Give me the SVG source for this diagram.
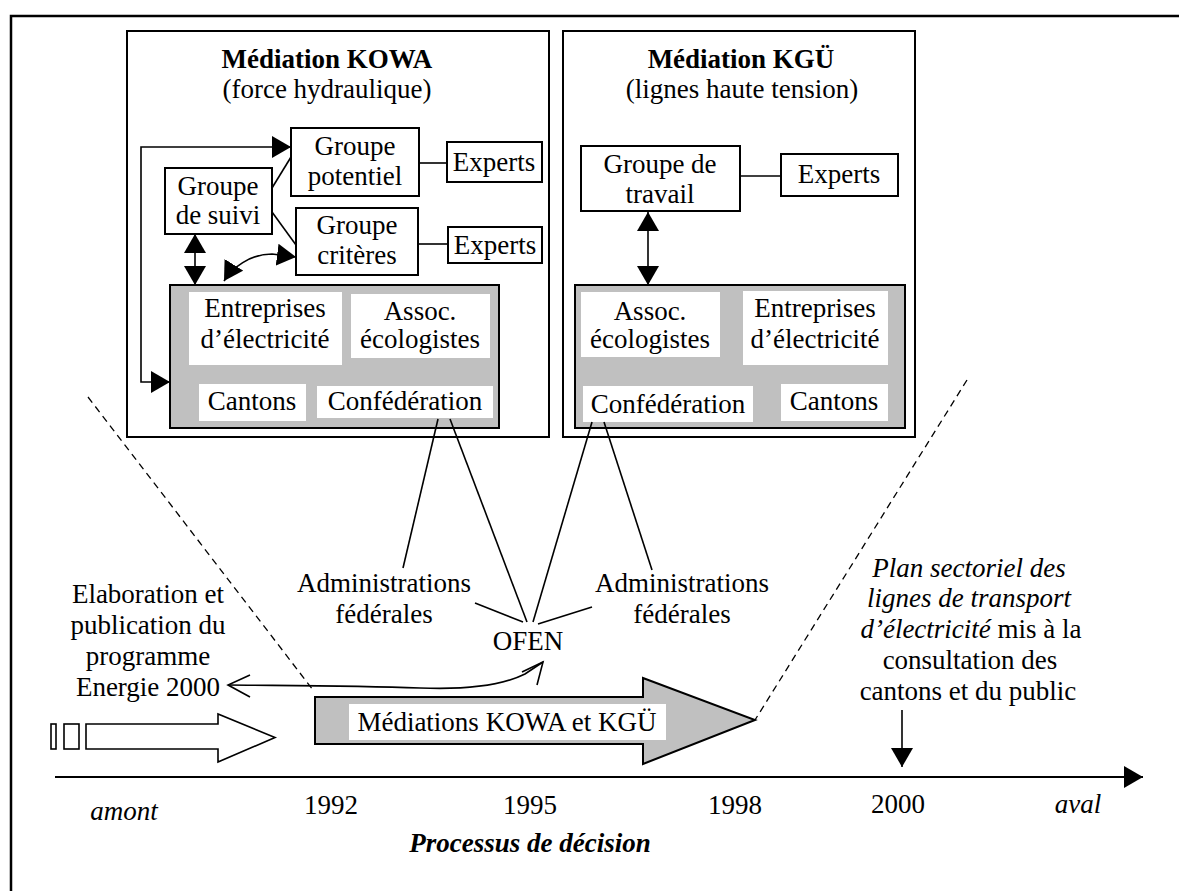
<svg xmlns="http://www.w3.org/2000/svg" width="1179" height="891" viewBox="0 0 1179 891" font-family="'Liberation Serif', 'Times New Roman', 'DejaVu Serif', serif">
<style>
text{font-family:'Liberation Serif','Times New Roman','DejaVu Serif',serif;font-size:27px;fill:#000;text-anchor:middle}
.b{font-weight:bold}
.i{font-style:italic}
.box{fill:#fff;stroke:#000;stroke-width:2}
.gray{fill:#c0c0c0;stroke:#000;stroke-width:2}
.wb{fill:#fff;stroke:none}
.ln{fill:none;stroke:#000;stroke-width:1.6}
.dash{fill:none;stroke:#000;stroke-width:1.3;stroke-dasharray:7,5}
</style>
<defs>
<marker id="tri" viewBox="0 0 19 22" refX="19" refY="11" markerWidth="19" markerHeight="22" markerUnits="userSpaceOnUse" orient="auto-start-reverse">
<path d="M0,0 L19,11 L0,22 z" fill="#000"/>
</marker>
</defs>
<rect width="1179" height="891" fill="#fff"/>
<g id="frame">
<path d="M11,891 L11,16 L1179,16" fill="none" stroke="#000" stroke-width="2.5"/>
</g>
<g id="kowa">
<rect class="box" x="127" y="31" width="422" height="406"/>
<text class="b" x="327" y="68">Médiation KOWA</text>
<text x="327" y="98">(force hydraulique)</text>
</g>
<g id="kgu">
<rect class="box" x="563" y="31" width="352" height="406"/>
<text class="b" x="741" y="68">Médiation KGÜ</text>
<text x="742" y="98">(lignes haute tension)</text>
</g>
<g id="kowa-suivi">
<rect class="box" x="165" y="168" width="107" height="66"/>
<text x="218" y="195">Groupe</text>
<text x="218" y="224">de suivi</text>
</g>
<g id="kowa-potentiel">
<rect class="box" x="291" y="128" width="128" height="68"/>
<text x="355" y="155">Groupe</text>
<text x="355" y="185">potentiel</text>
</g>
<g id="kowa-experts1">
<rect class="box" x="447" y="142" width="95" height="40"/>
<text x="494" y="171">Experts</text>
</g>
<g id="kowa-criteres">
<rect class="box" x="296" y="208" width="122" height="67"/>
<text x="357" y="234">Groupe</text>
<text x="357" y="264">critères</text>
</g>
<g id="kowa-experts2">
<rect class="box" x="448" y="227" width="94" height="36"/>
<text x="495" y="254">Experts</text>
</g>
<g id="kowa-acteurs">
<rect class="gray" x="170" y="285" width="329" height="143"/>
<rect class="wb" x="189" y="292" width="153" height="73"/>
<text x="265" y="317">Entreprises</text>
<text x="265" y="348">d’électricité</text>
<rect class="wb" x="351" y="294" width="139" height="64"/>
<text x="420" y="320">Assoc.</text>
<text x="420" y="348">écologistes</text>
<rect class="wb" x="199" y="384" width="107" height="37"/>
<text x="252" y="410">Cantons</text>
<rect class="wb" x="317" y="386" width="176" height="32"/>
<text x="405" y="410">Confédération</text>
</g>
<g id="kgu-travail">
<rect class="box" x="581" y="146" width="159" height="65"/>
<text x="660" y="173">Groupe de</text>
<text x="660" y="203">travail</text>
</g>
<g id="kgu-experts">
<rect class="box" x="781" y="154" width="117" height="42"/>
<text x="839" y="183">Experts</text>
</g>
<g id="kgu-acteurs">
<rect class="gray" x="575" y="285" width="330" height="143"/>
<rect class="wb" x="581" y="292" width="139" height="65"/>
<text x="650" y="320">Assoc.</text>
<text x="650" y="348">écologistes</text>
<rect class="wb" x="743" y="291" width="145" height="74"/>
<text x="815" y="317">Entreprises</text>
<text x="815" y="348">d’électricité</text>
<rect class="wb" x="583" y="386" width="170" height="36"/>
<text x="668" y="413">Confédération</text>
<rect class="wb" x="781" y="384" width="107" height="37"/>
<text x="834" y="410">Cantons</text>
</g>
<g id="connectors">
<line class="ln" x1="419" y1="163" x2="447" y2="163"/>
<line class="ln" x1="418" y1="244" x2="448" y2="244"/>
<line class="ln" x1="272" y1="188" x2="291" y2="157"/>
<line class="ln" x1="272" y1="212" x2="296" y2="245"/>
<path class="ln" d="M170,382 L141,382 L141,147 L291,147" marker-start="url(#tri)" marker-end="url(#tri)"/>
<line class="ln" x1="195" y1="234" x2="195" y2="285" marker-start="url(#tri)" marker-end="url(#tri)"/>
<path class="ln" d="M224,281 C232,268 250,254 272,254 L296,257" marker-start="url(#tri)" marker-end="url(#tri)"/>
<line class="ln" x1="740" y1="176" x2="781" y2="176"/>
<line class="ln" x1="648" y1="212" x2="648" y2="285" marker-start="url(#tri)" marker-end="url(#tri)"/>
<line class="ln" x1="438" y1="419" x2="403" y2="568"/>
<line class="ln" x1="450" y1="419" x2="527" y2="622"/>
<line class="ln" x1="592" y1="422" x2="533" y2="622"/>
<line class="ln" x1="604" y1="422" x2="652" y2="570"/>
<line class="ln" x1="475" y1="603" x2="523" y2="622"/>
<line class="ln" x1="538" y1="624" x2="592" y2="607"/>
<path class="ln" d="M228,685 C330,686 360,686 420,688 C470,690 505,684 525,674 L543,662"/>
<path class="ln" d="M250,675 L228,685 L250,697"/>
<path class="ln" d="M522,672 L543,662 L537,685"/>
<line class="dash" x1="88" y1="397" x2="313" y2="690"/>
<line class="dash" x1="967" y1="380" x2="755" y2="720"/>
<line class="ln" x1="902" y1="710" x2="902" y2="767" marker-end="url(#tri)"/>
<line x1="55" y1="777" x2="1143" y2="777" stroke="#000" stroke-width="2" marker-end="url(#tri)"/>
</g>
<g id="admin-left">
<text x="384" y="592">Administrations</text>
<text x="384" y="623">fédérales</text>
</g>
<g id="admin-right">
<text x="682" y="592">Administrations</text>
<text x="682" y="623">fédérales</text>
</g>
<g id="ofen">
<text x="528" y="650">OFEN</text>
</g>
<g id="energie2000">
<text x="148" y="603">Elaboration et</text>
<text x="148" y="634">publication du</text>
<text x="148" y="665">programme</text>
<text x="148" y="696">Energie 2000</text>
</g>
<g id="plan-sectoriel">
<text class="i" x="969" y="577">Plan sectoriel des</text>
<text class="i" x="969" y="607">lignes de transport</text>
<text x="971" y="638"><tspan class="i">d’électricité</tspan> mis à la</text>
<text x="970" y="669">consultation des</text>
<text x="968" y="700">cantons et du public</text>
</g>
<g id="amont-arrow">
<rect x="51" y="724" width="5" height="25" fill="#fff" stroke="#000" stroke-width="1.6"/>
<rect x="64" y="724" width="15" height="25" fill="#fff" stroke="#000" stroke-width="1.6"/>
<polygon points="86,724 218,724 218,714 275,737.5 218,762 218,749 86,749" fill="#fff" stroke="#000" stroke-width="1.6"/>
</g>
<g id="mediations">
<polygon points="315,697 643,697 643,678 755,720 643,764 643,744 315,744" fill="#c0c0c0" stroke="#000" stroke-width="2"/>
<rect class="wb" x="349" y="704" width="317" height="36"/>
<text x="507" y="731">Médiations KOWA et KGÜ</text>
</g>
<g id="axis-labels">
<text class="i" x="124" y="820">amont</text>
<text x="331" y="814">1992</text>
<text x="530" y="814">1995</text>
<text x="735" y="814">1998</text>
<text x="898" y="813">2000</text>
<text class="i" x="1078" y="813">aval</text>
<text class="b i" x="530" y="852">Processus de décision</text>
</g>
</svg>
